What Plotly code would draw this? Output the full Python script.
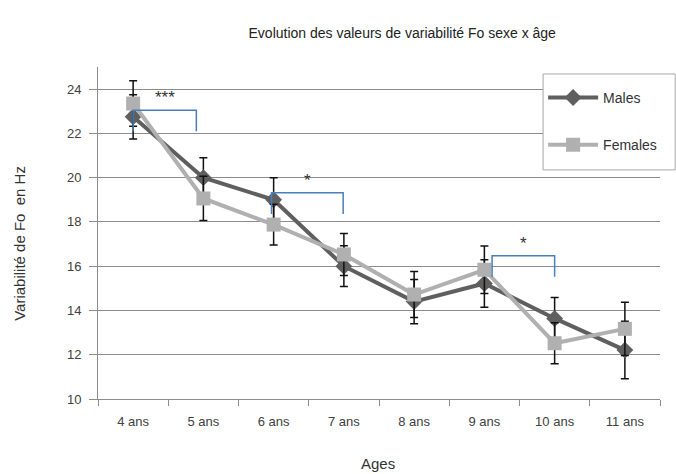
"""Evolution de la variabilité Fo par sexe et âge."""
import plotly.graph_objects as go

ages = ["4 ans", "5 ans", "6 ans", "7 ans", "8 ans", "9 ans", "10 ans", "11 ans"]
males = [22.75, 20.0, 19.0, 16.0, 14.4, 15.22, 13.64, 12.21]
males_err = [1.0, 0.9, 1.0, 0.92, 1.0, 1.07, 0.95, 1.3]
females = [23.35, 19.06, 17.88, 16.53, 14.72, 15.84, 12.52, 13.17]
females_err = [1.03, 1.0, 0.92, 0.95, 1.04, 1.07, 0.93, 1.2]

# significance brackets: start index, end index, top value, leg bottom, label
brk_start = [0.0, 1.97, 5.11]
brk_end = [0.9, 2.99, 6.0]
brk_top = [23.05, 19.32, 16.47]
brk_low = [22.1, 18.36, 15.52]
brk_label = ["***", "*", "*"]

font = "Liberation Sans"
grid = "#8c8c8c"

fig = go.Figure()

fig.add_trace(go.Scatter(
    x=ages, y=males, name="Males", mode="lines+markers",
    line=dict(color="#5f5f5f", width=4),
    marker=dict(symbol="diamond", size=13, color="#5f5f5f"),
    error_y=dict(type="data", array=males_err, color="#111111",
                 thickness=1.5, width=4),
    legendgroup="m",
))
fig.add_trace(go.Scatter(
    x=ages, y=females, name="Females", mode="lines+markers",
    line=dict(color="#b0b0b0", width=4),
    marker=dict(symbol="square", size=14, color="#b0b0b0"),
    error_y=dict(type="data", array=females_err, color="#111111",
                 thickness=1.5, width=4),
    legendgroup="f",
))

for x0, x1, top, low, lab in zip(brk_start, brk_end, brk_top, brk_low, brk_label):
    fig.add_shape(
        type="path",
        path=f"M {x0},{low} L {x0},{top} L {x1},{top} L {x1},{low}",
        xref="x", yref="y", line=dict(color="#4a7ebb", width=1.5),
    )
    fig.add_annotation(
        x=(x0 + x1) / 2, y=top, text=lab, showarrow=False,
        yanchor="bottom", yshift=1, font=dict(family=font, size=17, color="#333"),
    )

# legend frame (drawn as a box so it can be taller than plotly's own)
fig.add_shape(
    type="rect", xref="paper", yref="paper",
    x0=0.792, x1=1.027, y0=0.69, y1=0.979,
    line=dict(color="#a6a6a6", width=1), fillcolor="white", layer="above",
)

# axis titles
fig.add_annotation(
    text="Variabilité de Fo  en Hz", xref="paper", yref="paper",
    x=-0.139, y=0.47, textangle=-90, showarrow=False,
    xanchor="center", yanchor="middle",
    font=dict(family=font, size=15, color="#333"),
)
fig.add_annotation(
    text="Ages", xref="paper", yref="paper", x=0.499, y=-0.193,
    showarrow=False, xanchor="center", yanchor="middle",
    font=dict(family=font, size=15, color="#333"),
)

fig.update_layout(
    width=676, height=474,
    margin=dict(l=98, r=16, t=67, b=75),
    paper_bgcolor="white", plot_bgcolor="white",
    font=dict(family=font, size=13, color="#404040"),
    title=dict(text="Evolution des valeurs de variabilité Fo sexe x âge",
               x=0.595, xanchor="center", y=0.93, yanchor="middle",
               font=dict(family=font, size=14, color="#222")),
    xaxis=dict(
        type="category", tickson="boundaries", ticks="outside",
        ticklen=6, tickcolor=grid, showline=True, linecolor=grid,
        showgrid=False, range=[-0.5, 7.5], automargin=False,
        ticklabelstandoff=10,
    ),
    yaxis=dict(
        range=[10, 25], tick0=10, dtick=2, ticks="outside", ticklen=8,
        tickcolor=grid, showline=True, linecolor=grid, gridcolor=grid,
        gridwidth=1, zeroline=False, automargin=False,
        ticklabelstandoff=5,
    ),
    legend=dict(
        x=0.792, y=0.955, xanchor="left", yanchor="top",
        borderwidth=0, bgcolor="rgba(0,0,0,0)",
        font=dict(family=font, size=14, color="#333"),
        tracegroupgap=26, itemwidth=50,
    ),
)

fig.write_html("out.html", config={"displayModeBar": False},
               post_script="document.body.style.margin='0';")
